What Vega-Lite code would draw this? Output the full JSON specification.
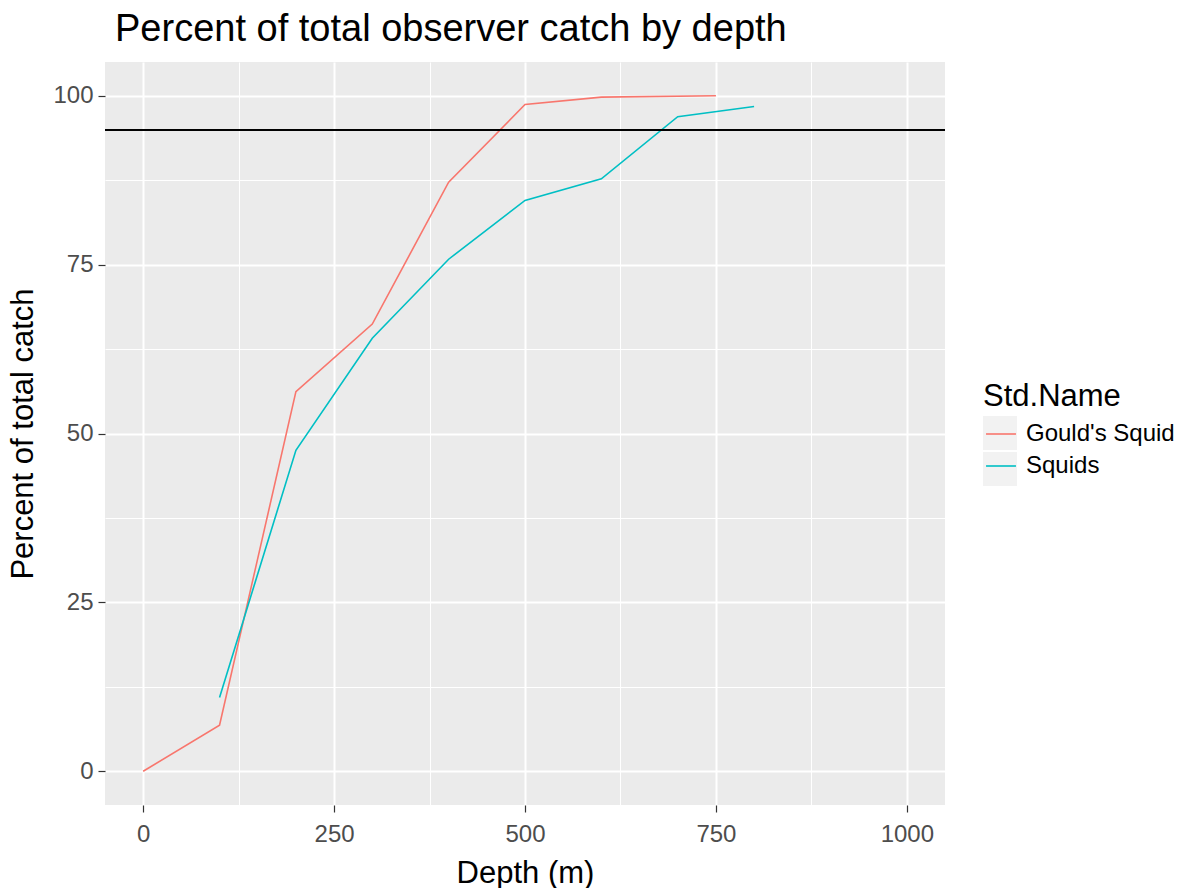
{
  "$schema": "https://vega.github.io/schema/vega-lite/v6.json",
  "width": 840,
  "height": 743,
  "autosize": "none",
  "padding": {"left": 105, "top": 62, "right": 233, "bottom": 83},
  "background": "white",
  "config": {
    "font": "Liberation Sans",
    "view": {"fill": "#EBEBEB", "stroke": null},
    "axis": {
      "domain": false,
      "gridColor": "white",
      "tickColor": "#333333",
      "tickWidth": 1.2,
      "tickSize": 7,
      "labelFont": "Liberation Sans",
      "labelFontSize": 24,
      "labelColor": "#4D4D4D",
      "titleFont": "Liberation Sans",
      "titleFontSize": 31,
      "titleFontWeight": "normal",
      "titleColor": "black",
      "labelOverlap": false
    }
  },
  "title": {
    "text": "Percent of total observer catch by depth",
    "anchor": "start",
    "frame": "group",
    "font": "Liberation Sans",
    "fontSize": 38,
    "fontWeight": "normal",
    "color": "black",
    "offset": 13,
    "dx": 10
  },
  "data": {
    "values": [
      {"depth": 0, "pct": 0, "name": "Gould's Squid"},
      {"depth": 100, "pct": 6.8, "name": "Gould's Squid"},
      {"depth": 200, "pct": 56.2, "name": "Gould's Squid"},
      {"depth": 300, "pct": 66.2, "name": "Gould's Squid"},
      {"depth": 400, "pct": 87.2, "name": "Gould's Squid"},
      {"depth": 500, "pct": 98.7, "name": "Gould's Squid"},
      {"depth": 600, "pct": 99.8, "name": "Gould's Squid"},
      {"depth": 750, "pct": 100, "name": "Gould's Squid"},
      {"depth": 100, "pct": 10.9, "name": "Squids"},
      {"depth": 200, "pct": 47.5, "name": "Squids"},
      {"depth": 300, "pct": 64.1, "name": "Squids"},
      {"depth": 400, "pct": 75.8, "name": "Squids"},
      {"depth": 500, "pct": 84.5, "name": "Squids"},
      {"depth": 600, "pct": 87.7, "name": "Squids"},
      {"depth": 700, "pct": 96.9, "name": "Squids"},
      {"depth": 800, "pct": 98.4, "name": "Squids"}
    ]
  },
  "layer": [
    {
      "transform": [{"filter": "false"}],
      "mark": {"type": "point", "filled": true},
      "encoding": {
        "fill": {
          "field": "name",
          "type": "nominal",
          "scale": {"domain": ["Gould's Squid", "Squids"], "range": ["#F2F2F2", "#F2F2F2"]},
          "legend": {
            "title": "Std.Name",
            "orient": "none",
            "legendX": 878,
            "legendY": 320,
            "padding": 0,
            "titleFontSize": 31,
            "titleFontWeight": "normal",
            "titlePadding": 3,
            "titleOpacity": 0,
            "labelFontSize": 24,
            "labelExpr": "''",
            "labelOffset": 0,
            "symbolType": "square",
            "symbolSize": 1156,
            "symbolStrokeWidth": 0,
            "symbolStrokeColor": "transparent",
            "symbolOpacity": 1,
            "rowPadding": 2
          }
        }
      }
    },
    {
      "mark": {"type": "line", "strokeWidth": 1.6},
      "encoding": {
        "x": {
          "field": "depth",
          "type": "quantitative",
          "title": "Depth (m)",
          "scale": {"domain": [-50, 1050], "nice": false, "zero": false},
          "axis": {
            "values": [0, 125, 250, 375, 500, 625, 750, 875, 1000],
            "labelExpr": "datum.value % 250 === 0 ? format(datum.value, 'd') : ''",
            "gridWidth": {"condition": {"test": "datum.value % 250 === 0", "value": 2}, "value": 1},
            "tickOpacity": {"condition": {"test": "datum.value % 250 === 0", "value": 1}, "value": 0},
            "labelPadding": 10,
            "titlePadding": 12
          }
        },
        "y": {
          "field": "pct",
          "type": "quantitative",
          "title": "Percent of total catch",
          "scale": {"domain": [-5, 105], "nice": false, "zero": false},
          "axis": {
            "values": [0, 12.5, 25, 37.5, 50, 62.5, 75, 87.5, 100],
            "labelExpr": "datum.value % 25 === 0 ? format(datum.value, 'd') : ''",
            "gridWidth": {"condition": {"test": "datum.value % 25 === 0", "value": 2}, "value": 1},
            "tickOpacity": {"condition": {"test": "datum.value % 25 === 0", "value": 1}, "value": 0},
            "labelPadding": 5,
            "titlePadding": 13
          }
        },
        "stroke": {
          "field": "name",
          "type": "nominal",
          "scale": {"range": ["#F8766D", "#00BFC4"]},
          "legend": {
            "title": "Std.Name",
            "orient": "none",
            "legendX": 878,
            "legendY": 320,
            "padding": 0,
            "titleFont": "Liberation Sans",
            "titleFontSize": 31,
            "titleFontWeight": "normal",
            "titleColor": "black",
            "titlePadding": 3,
            "labelFont": "Liberation Sans",
            "labelFontSize": 24,
            "labelColor": "black",
            "labelOffset": 7,
            "symbolType": "M-0.88,0H0.88",
            "symbolSize": 1156,
            "symbolStrokeWidth": 1.6,
            "rowPadding": 2
          }
        }
      }
    },
    {
      "mark": {"type": "rule", "color": "black", "strokeWidth": 1.2},
      "encoding": {"y": {"datum": 95}}
    }
  ]
}
